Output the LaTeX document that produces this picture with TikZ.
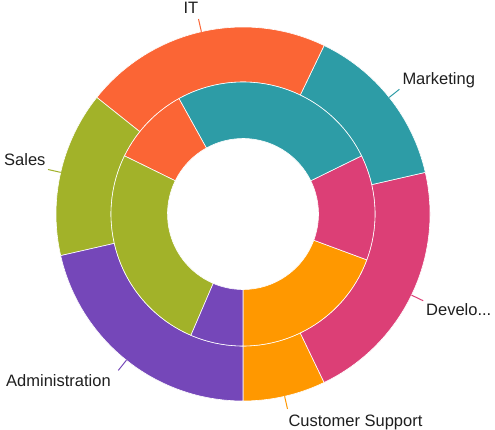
\documentclass[tikz,border=0pt]{standalone}
\usepackage{fontspec}
\setmainfont{Liberation Sans}
\definecolor{cIT}{HTML}{FB6535}
\definecolor{cMkt}{HTML}{2D9CA6}
\definecolor{cDev}{HTML}{DC3F76}
\definecolor{cCS}{HTML}{FF9800}
\definecolor{cSales}{HTML}{A2B229}
\definecolor{cAdm}{HTML}{7547B9}
\definecolor{labeltext}{HTML}{1F1F1F}
\newcommand{\ringslice}[5]{%
  \path[slicestyle, fill=#5] (#1:#3) -- (#1:#4)
    arc[start angle=#1, end angle=#2, radius=#4] -- (#2:#3)
    arc[start angle=#2, end angle=#1, radius=#3] -- cycle;}
\tikzset{
  slicestyle/.style={draw=white, line width=0.6pt, line join=round},
  leader/.style={line width=1pt},
  lbl/.style={inner sep=0pt, text=labeltext, font=\fontsize{16.5}{18}\selectfont}
}
\begin{document}
\begin{tikzpicture}[x=1pt,y=1pt]
\useasboundingbox[fill=white] (0,0) rectangle (495,-430);
\begin{scope}[shift={(243,-214)}]
  % outer ring
  \ringslice{-90}{-64.29}{132}{187}{cCS}
  \ringslice{-64.29}{12.86}{132}{187}{cDev}
  \ringslice{12.86}{64.29}{132}{187}{cMkt}
  \ringslice{64.29}{141.43}{132}{187}{cIT}
  \ringslice{141.43}{192.86}{132}{187}{cSales}
  \ringslice{192.86}{270}{132}{187}{cAdm}
  % inner ring
  \ringslice{-90}{-20.32}{75.5}{132}{cCS}
  \ringslice{-20.32}{26.13}{75.5}{132}{cDev}
  \ringslice{26.13}{119.03}{75.5}{132}{cMkt}
  \ringslice{119.03}{153.87}{75.5}{132}{cIT}
  \ringslice{153.87}{246.77}{75.5}{132}{cSales}
  \ringslice{246.77}{270}{75.5}{132}{cAdm}
  % leader coordinates
  \coordinate (itA) at (102.86:187);   \coordinate (itB) at (102.86:200);
  \coordinate (mkA) at (38.57:187);    \coordinate (mkB) at (38.57:200);
  \coordinate (saA) at (167.14:187);   \coordinate (saB) at (167.14:200);
  \coordinate (dvA) at (-25.71:187);   \coordinate (dvB) at (-25.71:200);
  \coordinate (adA) at (231.43:187);   \coordinate (adB) at (231.43:200);
  \coordinate (csA) at (-77.14:187);   \coordinate (csB) at (-77.14:200);
\end{scope}
\draw[leader, cIT] (itA) -- (itB);
\draw[leader, cMkt] (mkA) -- (mkB);
\draw[leader, cSales] (saA) -- (saB);
\draw[leader, cDev] (dvA) -- (dvB);
\draw[leader, cAdm] (adA) -- (adB);
\draw[leader, cCS] (csA) -- (csB);
\node[lbl, anchor=base west] (itL) at (183.3,-14) {IT};
\node[lbl, anchor=base west] (mkL) at (402.3,-85) {Marketing};
\node[lbl, anchor=base west] (saL) at (4,-166) {Sales};
\node[lbl, anchor=base west] (dvL) at (426,-315) {Develo...};
\node[lbl, anchor=base west] (adL) at (6,-386) {Administration};
\node[lbl, anchor=base west] (csL) at (288.3,-426) {Customer Support};
\end{tikzpicture}
\end{document}
